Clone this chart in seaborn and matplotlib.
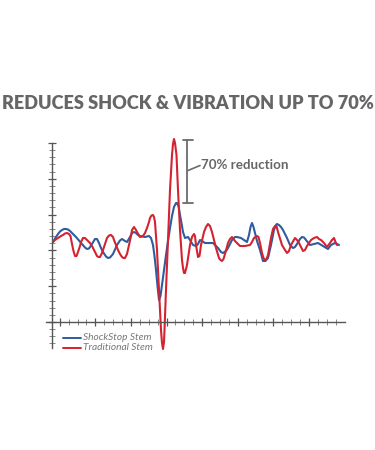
import seaborn as sns
import pandas as pd
import numpy as np
import matplotlib.pyplot as plt
from matplotlib.ticker import FixedLocator

# (time, amplitude) pairs
shock = [(1, 80), (4, 85), (6, 88), (8, 90.5), (10, 92), (12, 93), (14, 93), (16, 92.5),
         (18, 91), (21, 88), (24, 85), (27, 81.5), (30, 78), (33, 74.5), (35, 73), (37, 73.5),
         (40, 78), (43, 83), (45, 83), (47, 79), (49, 74), (51, 70), (54, 65.5), (56, 64),
         (58, 64.5), (61, 68), (63, 72.5), (65, 77), (68, 81.5), (70, 83), (73, 81), (75, 80),
         (78, 85), (80, 89), (82, 90), (84, 89), (86, 87), (88, 86), (93, 85), (97, 86),
         (99, 84), (101, 77), (102.5, 66), (104, 52), (105.5, 36), (107, 22), (108.5, 26),
         (110, 37), (112, 52), (114, 67), (116, 81), (118, 94), (120, 106), (122, 115),
         (124, 119), (125, 119), (126.5, 116), (128, 107), (130, 96), (131, 90), (133, 84),
         (136, 85), (138, 82), (141, 77), (144, 76), (146, 78), (148, 82), (150, 81),
         (153, 79), (157, 79), (161, 79), (164, 76), (166, 74), (169, 70), (171, 69),
         (174, 71), (176, 74), (178, 78), (180, 82), (183, 85), (185, 85), (189, 84),
         (192, 82), (195, 80), (197, 87), (198.5, 95), (200, 99), (201.5, 95), (203, 89),
         (205, 81), (208, 72), (211, 61), (213.5, 61), (216, 64), (219, 77), (222, 92),
         (224, 97), (225, 98), (227, 97), (229, 95), (231, 92), (235, 84), (238, 77),
         (241, 74), (243, 75), (245, 78), (248, 83), (250, 85), (252, 84.5), (254, 82),
         (258, 77), (262, 78), (266, 79), (271, 76), (276, 73), (279, 77), (283, 79), (287, 77)]

traditional = [(1, 80), (3, 82), (6, 84), (9, 86), (11, 87), (13, 88.5), (15, 89), (17, 88),
               (18.5, 86), (20, 78), (21.5, 71), (23, 66), (24.5, 66), (26, 70), (28, 76),
               (29, 80), (31, 84), (33, 84), (35, 82), (38, 79), (40, 76), (42, 72), (44, 68),
               (45, 66), (46.5, 65), (48, 65), (50, 69), (52, 75), (55, 84), (57, 86.5),
               (59, 87), (61, 85), (62, 82), (64, 77), (66, 72), (68, 68), (70, 65),
               (71.5, 64), (73, 64), (75, 68), (77, 77), (79, 86), (80, 92), (82, 95),
               (84, 92), (85, 90), (88, 85), (91, 86), (93, 89), (95, 94), (97, 100),
               (98, 104), (99.5, 106.5), (101, 107), (102, 105), (103, 100), (105, 72),
               (107, 32), (109, -8), (110, -21), (111, -27), (112, -20), (112.5, -8),
               (114, 32), (116, 82), (118, 132), (120, 167), (121, 178), (122, 183),
               (123, 179), (124.5, 167), (126, 132), (128, 92), (130, 62), (131, 54),
               (132, 49), (133, 49), (135, 57), (138, 77), (140, 85), (142, 88), (143, 86),
               (144, 77), (146, 65), (147.5, 66), (149, 77), (152, 90), (154, 95), (156, 98),
               (158, 96), (160, 90), (164, 74), (167, 64), (168.5, 62), (170, 61),
               (171.5, 63), (173, 68), (176, 79), (178, 83), (180, 85), (183, 81), (188, 76),
               (193, 76), (198, 77), (200, 80), (202, 84), (205, 86), (206.5, 85), (208, 79),
               (210, 69), (211.5, 64), (213, 62), (214.5, 63), (216, 67), (219, 84), (221, 93),
               (223, 96), (224.5, 96), (226, 90), (230, 77), (233, 72), (235, 69), (237, 71),
               (239, 77), (243, 84), (245, 82), (247, 79), (249, 75), (251, 71), (253, 72),
               (255, 76), (259, 82), (262, 84), (265, 85), (267, 83), (269, 82), (272, 79),
               (275, 75), (278, 79), (280, 82), (282, 84), (283.5, 80), (285, 77)]

labels = ['ShockStop Stem', 'Traditional Stem']
colors = ['#2f5b9f', '#d42330']

frames = []
for lab, series in zip(labels, [shock, traditional]):
    t, a = zip(*series)
    frames.append(pd.DataFrame({'t': t, 'a': a, 'stem': lab}))
df = pd.concat(frames)

sns.set_style('white')
plt.rcParams['font.family'] = ['Lato', 'DejaVu Sans']

fig = plt.figure(figsize=(3.75, 4.5), dpi=100)
ax = fig.add_axes([0, 0, 1, 1])
ax.patch.set_alpha(0)

sns.lineplot(data=df, x='t', y='a', hue='stem', palette=colors, estimator=None,
             sort=False, linewidth=1.5, ax=ax, legend=False)
for ln in ax.lines:
    ln.set_solid_joinstyle('round')

ax.set_xlim(-52, 323)
ax.set_ylim(-128, 322)

axis_col = '#555555'
for side in ['top', 'right']:
    ax.spines[side].set_visible(False)
ax.spines['left'].set_position(('data', 0))
ax.spines['bottom'].set_position(('data', 0))
ax.spines['left'].set_bounds(-26, 179)
ax.spines['bottom'].set_bounds(-6, 293)
for side in ['left', 'bottom']:
    ax.spines[side].set_color(axis_col)
    ax.spines[side].set_linewidth(1.0)

ax.xaxis.set_major_locator(FixedLocator(7.7 + 35.6 * np.arange(8)))
ax.xaxis.set_minor_locator(FixedLocator(7.7 + 8.9 * np.arange(32)))
ax.yaxis.set_major_locator(FixedLocator(35.8 * np.arange(6)))
ax.yaxis.set_minor_locator(FixedLocator(7.16 * np.arange(-3, 26)))
ax.tick_params(which='major', direction='inout', length=6, width=0.9, color=axis_col,
               labelbottom=False, labelleft=False, bottom=True, left=True)
ax.tick_params(which='minor', direction='inout', length=4, width=0.7, color='#888888',
               bottom=True, left=True)
ax.set_xlabel('')
ax.set_ylabel('')

# reduction bracket
bx = 186.5 - 52
ax.plot([bx, bx], [322 - 139.5, 322 - 202.5], color='#6b6b6b', lw=1.3)
ax.plot([bx - 3.5, bx + 6], [322 - 139.5] * 2, color='#6b6b6b', lw=1.3)
ax.plot([bx - 3.5, bx + 6], [322 - 202.5] * 2, color='#6b6b6b', lw=1.3)
ax.plot([bx + 1.5, bx + 13.5], [322 - 170.5, 322 - 165.5], color='#6b6b6b', lw=1.2)
ax.text(bx + 14.5, 322 - 165, '70% reduction', fontsize=9.6, fontweight='bold',
        color='#666666', va='center', ha='left')

fig.text(0.5, 1 - 104 / 450, 'REDUCES SHOCK & VIBRATION UP TO 70%', fontsize=13.1,
         fontweight='heavy', color='#666666', ha='center', va='center')

# legend
for i, (lab, c) in enumerate(zip(labels, colors)):
    yy = 322 - (337.5 + 10.5 * i)
    ax.plot([62.7 - 52, 80.7 - 52], [yy, yy], color=c, lw=1.4)
    ax.text(83 - 52, yy, lab, fontsize=7.3, style='italic', color='#777777',
            va='center', ha='left')

fig.savefig('out.png', dpi=100)
